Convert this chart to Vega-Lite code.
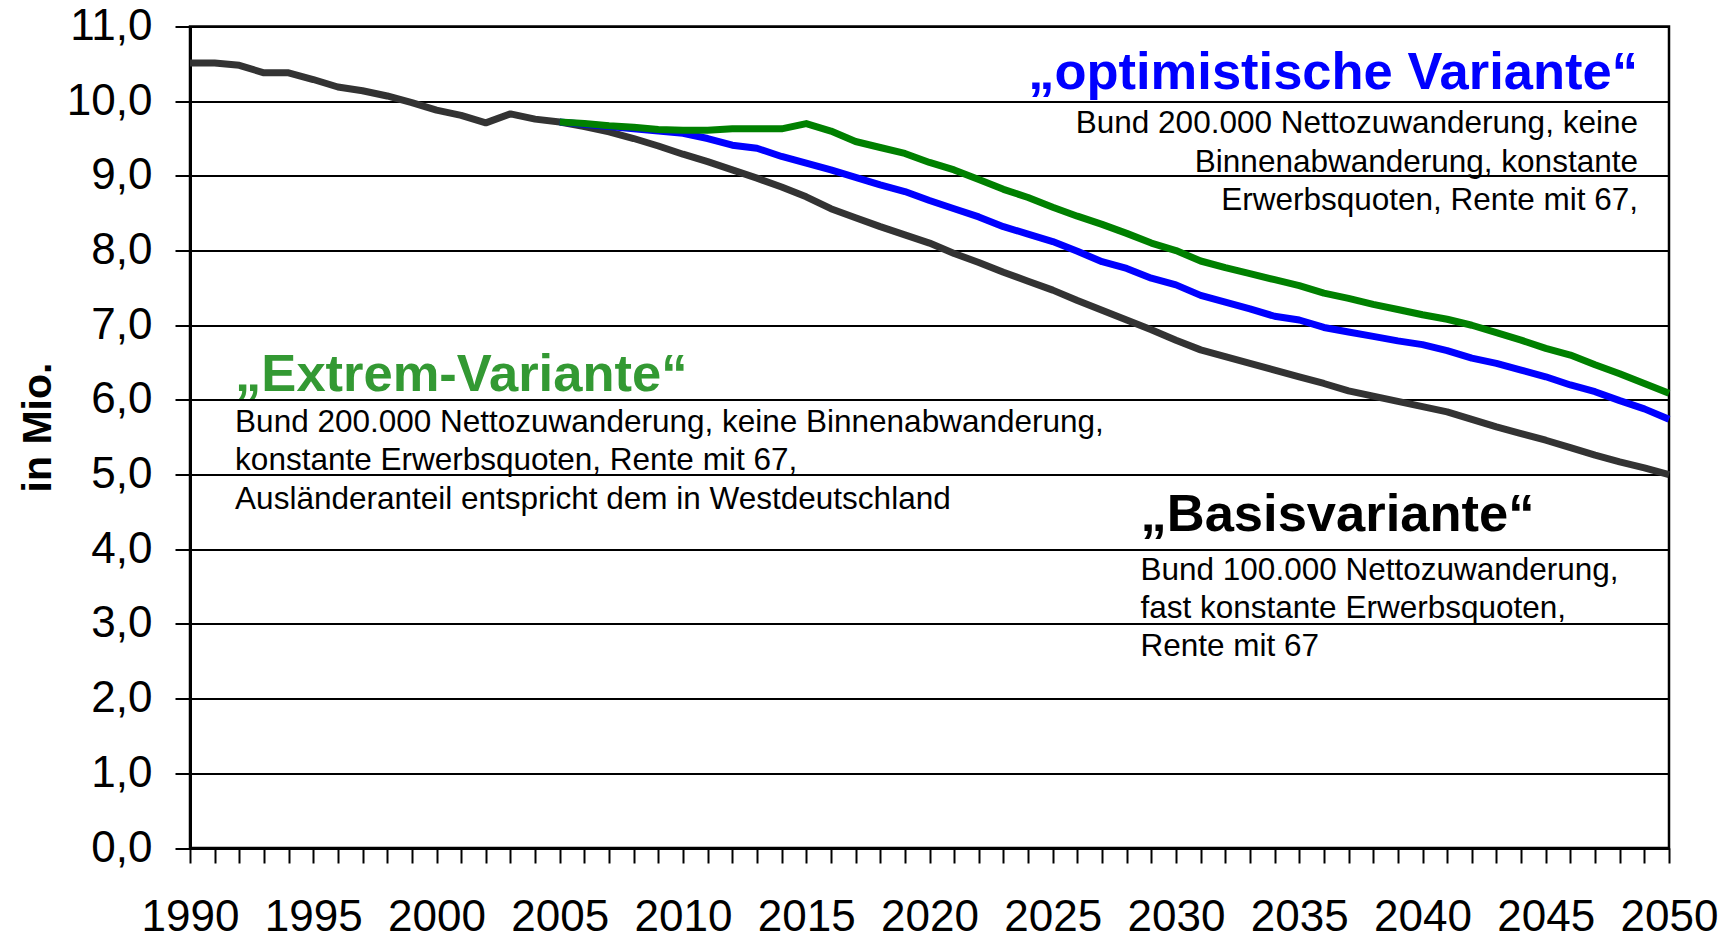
{
  "$schema": "https://vega.github.io/schema/vega-lite/v6.json",
  "autosize": "none",
  "width": 1479,
  "height": 821.5,
  "padding": {"left": 190, "top": 26.5, "right": 62, "bottom": 86},
  "background": "white",
  "config": {
    "font": "Liberation Sans",
    "view": {"stroke": "black", "strokeWidth": 2.5},
    "axis": {"domainColor": "black", "tickColor": "black", "labelColor": "black", "titleColor": "black", "labelFont": "Liberation Sans", "titleFont": "Liberation Sans", "labelOverlap": false, "labelSeparation": -1000}
  },
  "datasets": {
    "lines": [
      {"year": 1990, "s": "b", "v": 10.51}, {"year": 1991, "s": "b", "v": 10.51}, {"year": 1992, "s": "b", "v": 10.48}, {"year": 1993, "s": "b", "v": 10.38}, {"year": 1994, "s": "b", "v": 10.38},
      {"year": 1995, "s": "b", "v": 10.29}, {"year": 1996, "s": "b", "v": 10.19}, {"year": 1997, "s": "b", "v": 10.14}, {"year": 1998, "s": "b", "v": 10.07}, {"year": 1999, "s": "b", "v": 9.98},
      {"year": 2000, "s": "b", "v": 9.88}, {"year": 2001, "s": "b", "v": 9.81}, {"year": 2002, "s": "b", "v": 9.71}, {"year": 2003, "s": "b", "v": 9.83}, {"year": 2004, "s": "b", "v": 9.76},
      {"year": 2005, "s": "b", "v": 9.72}, {"year": 2006, "s": "b", "v": 9.66}, {"year": 2007, "s": "b", "v": 9.59}, {"year": 2008, "s": "b", "v": 9.50}, {"year": 2009, "s": "b", "v": 9.40},
      {"year": 2010, "s": "b", "v": 9.29}, {"year": 2011, "s": "b", "v": 9.19}, {"year": 2012, "s": "b", "v": 9.08}, {"year": 2013, "s": "b", "v": 8.97}, {"year": 2014, "s": "b", "v": 8.85},
      {"year": 2015, "s": "b", "v": 8.72}, {"year": 2016, "s": "b", "v": 8.56}, {"year": 2017, "s": "b", "v": 8.44}, {"year": 2018, "s": "b", "v": 8.32}, {"year": 2019, "s": "b", "v": 8.21},
      {"year": 2020, "s": "b", "v": 8.10}, {"year": 2021, "s": "b", "v": 7.96}, {"year": 2022, "s": "b", "v": 7.84}, {"year": 2023, "s": "b", "v": 7.71}, {"year": 2024, "s": "b", "v": 7.59},
      {"year": 2025, "s": "b", "v": 7.47}, {"year": 2026, "s": "b", "v": 7.33}, {"year": 2027, "s": "b", "v": 7.20}, {"year": 2028, "s": "b", "v": 7.07}, {"year": 2029, "s": "b", "v": 6.94},
      {"year": 2030, "s": "b", "v": 6.80}, {"year": 2031, "s": "b", "v": 6.67}, {"year": 2032, "s": "b", "v": 6.58}, {"year": 2033, "s": "b", "v": 6.49}, {"year": 2034, "s": "b", "v": 6.40},
      {"year": 2035, "s": "b", "v": 6.31}, {"year": 2036, "s": "b", "v": 6.22}, {"year": 2037, "s": "b", "v": 6.12}, {"year": 2038, "s": "b", "v": 6.05}, {"year": 2039, "s": "b", "v": 5.98},
      {"year": 2040, "s": "b", "v": 5.91}, {"year": 2041, "s": "b", "v": 5.84}, {"year": 2042, "s": "b", "v": 5.74}, {"year": 2043, "s": "b", "v": 5.64}, {"year": 2044, "s": "b", "v": 5.55},
      {"year": 2045, "s": "b", "v": 5.46}, {"year": 2046, "s": "b", "v": 5.36}, {"year": 2047, "s": "b", "v": 5.26}, {"year": 2048, "s": "b", "v": 5.17}, {"year": 2049, "s": "b", "v": 5.09},
      {"year": 2050, "s": "b", "v": 5.00},
      {"year": 2005, "s": "o", "v": 9.72}, {"year": 2006, "s": "o", "v": 9.69}, {"year": 2007, "s": "o", "v": 9.66}, {"year": 2008, "s": "o", "v": 9.63}, {"year": 2009, "s": "o", "v": 9.60},
      {"year": 2010, "s": "o", "v": 9.57}, {"year": 2011, "s": "o", "v": 9.50}, {"year": 2012, "s": "o", "v": 9.41}, {"year": 2013, "s": "o", "v": 9.37}, {"year": 2014, "s": "o", "v": 9.26},
      {"year": 2015, "s": "o", "v": 9.17}, {"year": 2016, "s": "o", "v": 9.08}, {"year": 2017, "s": "o", "v": 8.98}, {"year": 2018, "s": "o", "v": 8.88}, {"year": 2019, "s": "o", "v": 8.79},
      {"year": 2020, "s": "o", "v": 8.67}, {"year": 2021, "s": "o", "v": 8.56}, {"year": 2022, "s": "o", "v": 8.45}, {"year": 2023, "s": "o", "v": 8.32}, {"year": 2024, "s": "o", "v": 8.22},
      {"year": 2025, "s": "o", "v": 8.12}, {"year": 2026, "s": "o", "v": 7.99}, {"year": 2027, "s": "o", "v": 7.85}, {"year": 2028, "s": "o", "v": 7.76}, {"year": 2029, "s": "o", "v": 7.63},
      {"year": 2030, "s": "o", "v": 7.54}, {"year": 2031, "s": "o", "v": 7.40}, {"year": 2032, "s": "o", "v": 7.31}, {"year": 2033, "s": "o", "v": 7.22}, {"year": 2034, "s": "o", "v": 7.12},
      {"year": 2035, "s": "o", "v": 7.07}, {"year": 2036, "s": "o", "v": 6.97}, {"year": 2037, "s": "o", "v": 6.91}, {"year": 2038, "s": "o", "v": 6.85}, {"year": 2039, "s": "o", "v": 6.79},
      {"year": 2040, "s": "o", "v": 6.74}, {"year": 2041, "s": "o", "v": 6.66}, {"year": 2042, "s": "o", "v": 6.56}, {"year": 2043, "s": "o", "v": 6.49}, {"year": 2044, "s": "o", "v": 6.40},
      {"year": 2045, "s": "o", "v": 6.31}, {"year": 2046, "s": "o", "v": 6.20}, {"year": 2047, "s": "o", "v": 6.11}, {"year": 2048, "s": "o", "v": 5.99}, {"year": 2049, "s": "o", "v": 5.88},
      {"year": 2050, "s": "o", "v": 5.74},
      {"year": 2005, "s": "e", "v": 9.72}, {"year": 2006, "s": "e", "v": 9.70}, {"year": 2007, "s": "e", "v": 9.67}, {"year": 2008, "s": "e", "v": 9.65}, {"year": 2009, "s": "e", "v": 9.62},
      {"year": 2010, "s": "e", "v": 9.61}, {"year": 2011, "s": "e", "v": 9.61}, {"year": 2012, "s": "e", "v": 9.63}, {"year": 2013, "s": "e", "v": 9.63}, {"year": 2014, "s": "e", "v": 9.63},
      {"year": 2015, "s": "e", "v": 9.70}, {"year": 2016, "s": "e", "v": 9.60}, {"year": 2017, "s": "e", "v": 9.46}, {"year": 2018, "s": "e", "v": 9.38}, {"year": 2019, "s": "e", "v": 9.30},
      {"year": 2020, "s": "e", "v": 9.18}, {"year": 2021, "s": "e", "v": 9.08}, {"year": 2022, "s": "e", "v": 8.95}, {"year": 2023, "s": "e", "v": 8.82}, {"year": 2024, "s": "e", "v": 8.71},
      {"year": 2025, "s": "e", "v": 8.58}, {"year": 2026, "s": "e", "v": 8.46}, {"year": 2027, "s": "e", "v": 8.35}, {"year": 2028, "s": "e", "v": 8.23}, {"year": 2029, "s": "e", "v": 8.10},
      {"year": 2030, "s": "e", "v": 8.00}, {"year": 2031, "s": "e", "v": 7.86}, {"year": 2032, "s": "e", "v": 7.77}, {"year": 2033, "s": "e", "v": 7.69}, {"year": 2034, "s": "e", "v": 7.61},
      {"year": 2035, "s": "e", "v": 7.53}, {"year": 2036, "s": "e", "v": 7.43}, {"year": 2037, "s": "e", "v": 7.36}, {"year": 2038, "s": "e", "v": 7.28}, {"year": 2039, "s": "e", "v": 7.21},
      {"year": 2040, "s": "e", "v": 7.14}, {"year": 2041, "s": "e", "v": 7.08}, {"year": 2042, "s": "e", "v": 7.00}, {"year": 2043, "s": "e", "v": 6.90}, {"year": 2044, "s": "e", "v": 6.80},
      {"year": 2045, "s": "e", "v": 6.69}, {"year": 2046, "s": "e", "v": 6.60}, {"year": 2047, "s": "e", "v": 6.47}, {"year": 2048, "s": "e", "v": 6.35}, {"year": 2049, "s": "e", "v": 6.22},
      {"year": 2050, "s": "e", "v": 6.09}
    ]
  },
  "layer": [
    {
      "data": {"name": "lines"},
      "transform": [{"filter": "datum.s === 'b'"}],
      "mark": {"type": "line", "color": "#333333", "strokeWidth": 7, "strokeJoin": "round"},
      "encoding": {
        "x": {
          "field": "year", "type": "quantitative",
          "scale": {"domain": [1990, 2050], "nice": false, "zero": false},
          "axis": {
            "title": null, "grid": false, "tickCount": 200,
            "values": [1990,1991,1992,1993,1994,1995,1996,1997,1998,1999,2000,2001,2002,2003,2004,2005,2006,2007,2008,2009,2010,2011,2012,2013,2014,2015,2016,2017,2018,2019,2020,2021,2022,2023,2024,2025,2026,2027,2028,2029,2030,2031,2032,2033,2034,2035,2036,2037,2038,2039,2040,2041,2042,2043,2044,2045,2046,2047,2048,2049,2050],
            "labelExpr": "datum.value % 5 === 0 ? '' + datum.value : ''",
            "labelFontSize": 44, "labelPadding": 32, "labelFlush": false, "labelOverlap": false, "labelSeparation": -1000, "labelBaseline": "top",
            "tickSize": 15, "tickWidth": 2, "domainWidth": 3
          }
        },
        "y": {
          "field": "v", "type": "quantitative",
          "scale": {"domain": [0, 11], "nice": false},
          "axis": {
            "title": "in Mio.", "titleFontSize": 41, "titleFontWeight": "bold",
            "titleAngle": -90, "titleX": -140, "titleY": 400.5, "titleAlign": "center", "titleBaseline": "alphabetic",
            "values": [0,1,2,3,4,5,6,7,8,9,10,11], "tickCount": 50,
            "labelExpr": "replace(format(datum.value, '.1f'), '.', ',')",
            "labelFontSize": 44, "labelPadding": 23, "labelFlush": false, "labelOverlap": false,
            "tickSize": 15, "tickWidth": 2, "domainWidth": 3,
            "grid": true, "gridColor": "black", "gridWidth": 2, "gridOpacity": 1
          }
        }
      }
    },
    {
      "data": {"name": "lines"},
      "transform": [{"filter": "datum.s === 'o'"}],
      "mark": {"type": "line", "color": "#0000FF", "strokeWidth": 7, "strokeJoin": "round"},
      "encoding": {"x": {"field": "year", "type": "quantitative"}, "y": {"field": "v", "type": "quantitative"}}
    },
    {
      "data": {"name": "lines"},
      "transform": [{"filter": "datum.s === 'e'"}],
      "mark": {"type": "line", "color": "#008000", "strokeWidth": 7, "strokeJoin": "round"},
      "encoding": {"x": {"field": "year", "type": "quantitative"}, "y": {"field": "v", "type": "quantitative"}}
    },
    {
      "data": {"values": [{"year": 2048.74, "v": 10.16, "label": "„optimistische Variante“"}]},
      "mark": {"type": "text", "align": "right", "baseline": "alphabetic", "fontSize": 52.5, "fontWeight": "bold", "color": "#0000FF", "font": "Liberation Sans"},
      "encoding": {"x": {"field": "year", "type": "quantitative"}, "y": {"field": "v", "type": "quantitative"}, "text": {"field": "label"}}
    },
    {
      "data": {"values": [{"year": 2048.74, "v": 9.57, "label": "Bund 200.000 Nettozuwanderung, keine\nBinnenabwanderung, konstante\nErwerbsquoten, Rente mit 67,"}]},
      "mark": {"type": "text", "align": "right", "baseline": "alphabetic", "fontSize": 31.5, "color": "black", "font": "Liberation Sans", "lineBreak": "\n", "lineHeight": 38.3},
      "encoding": {"x": {"field": "year", "type": "quantitative"}, "y": {"field": "v", "type": "quantitative"}, "text": {"field": "label"}}
    },
    {
      "data": {"values": [{"year": 1991.83, "v": 6.12, "label": "„Extrem-Variante“"}]},
      "mark": {"type": "text", "align": "left", "baseline": "alphabetic", "fontSize": 52.5, "fontWeight": "bold", "color": "#339933", "font": "Liberation Sans"},
      "encoding": {"x": {"field": "year", "type": "quantitative"}, "y": {"field": "v", "type": "quantitative"}, "text": {"field": "label"}}
    },
    {
      "data": {"values": [{"year": 1991.83, "v": 5.57, "label": "Bund 200.000 Nettozuwanderung, keine Binnenabwanderung,\nkonstante Erwerbsquoten, Rente mit 67,\nAusländeranteil entspricht dem in Westdeutschland"}]},
      "mark": {"type": "text", "align": "left", "baseline": "alphabetic", "fontSize": 31.5, "color": "black", "font": "Liberation Sans", "lineBreak": "\n", "lineHeight": 38.3},
      "encoding": {"x": {"field": "year", "type": "quantitative"}, "y": {"field": "v", "type": "quantitative"}, "text": {"field": "label"}}
    },
    {
      "data": {"values": [{"year": 2028.56, "v": 4.24, "label": "„Basisvariante“"}]},
      "mark": {"type": "text", "align": "left", "baseline": "alphabetic", "fontSize": 52.5, "fontWeight": "bold", "color": "black", "font": "Liberation Sans"},
      "encoding": {"x": {"field": "year", "type": "quantitative"}, "y": {"field": "v", "type": "quantitative"}, "text": {"field": "label"}}
    },
    {
      "data": {"values": [{"year": 2028.56, "v": 3.59, "label": "Bund 100.000 Nettozuwanderung,\nfast konstante Erwerbsquoten,\nRente mit 67"}]},
      "mark": {"type": "text", "align": "left", "baseline": "alphabetic", "fontSize": 31.5, "color": "black", "font": "Liberation Sans", "lineBreak": "\n", "lineHeight": 38.3},
      "encoding": {"x": {"field": "year", "type": "quantitative"}, "y": {"field": "v", "type": "quantitative"}, "text": {"field": "label"}}
    }
  ]
}
